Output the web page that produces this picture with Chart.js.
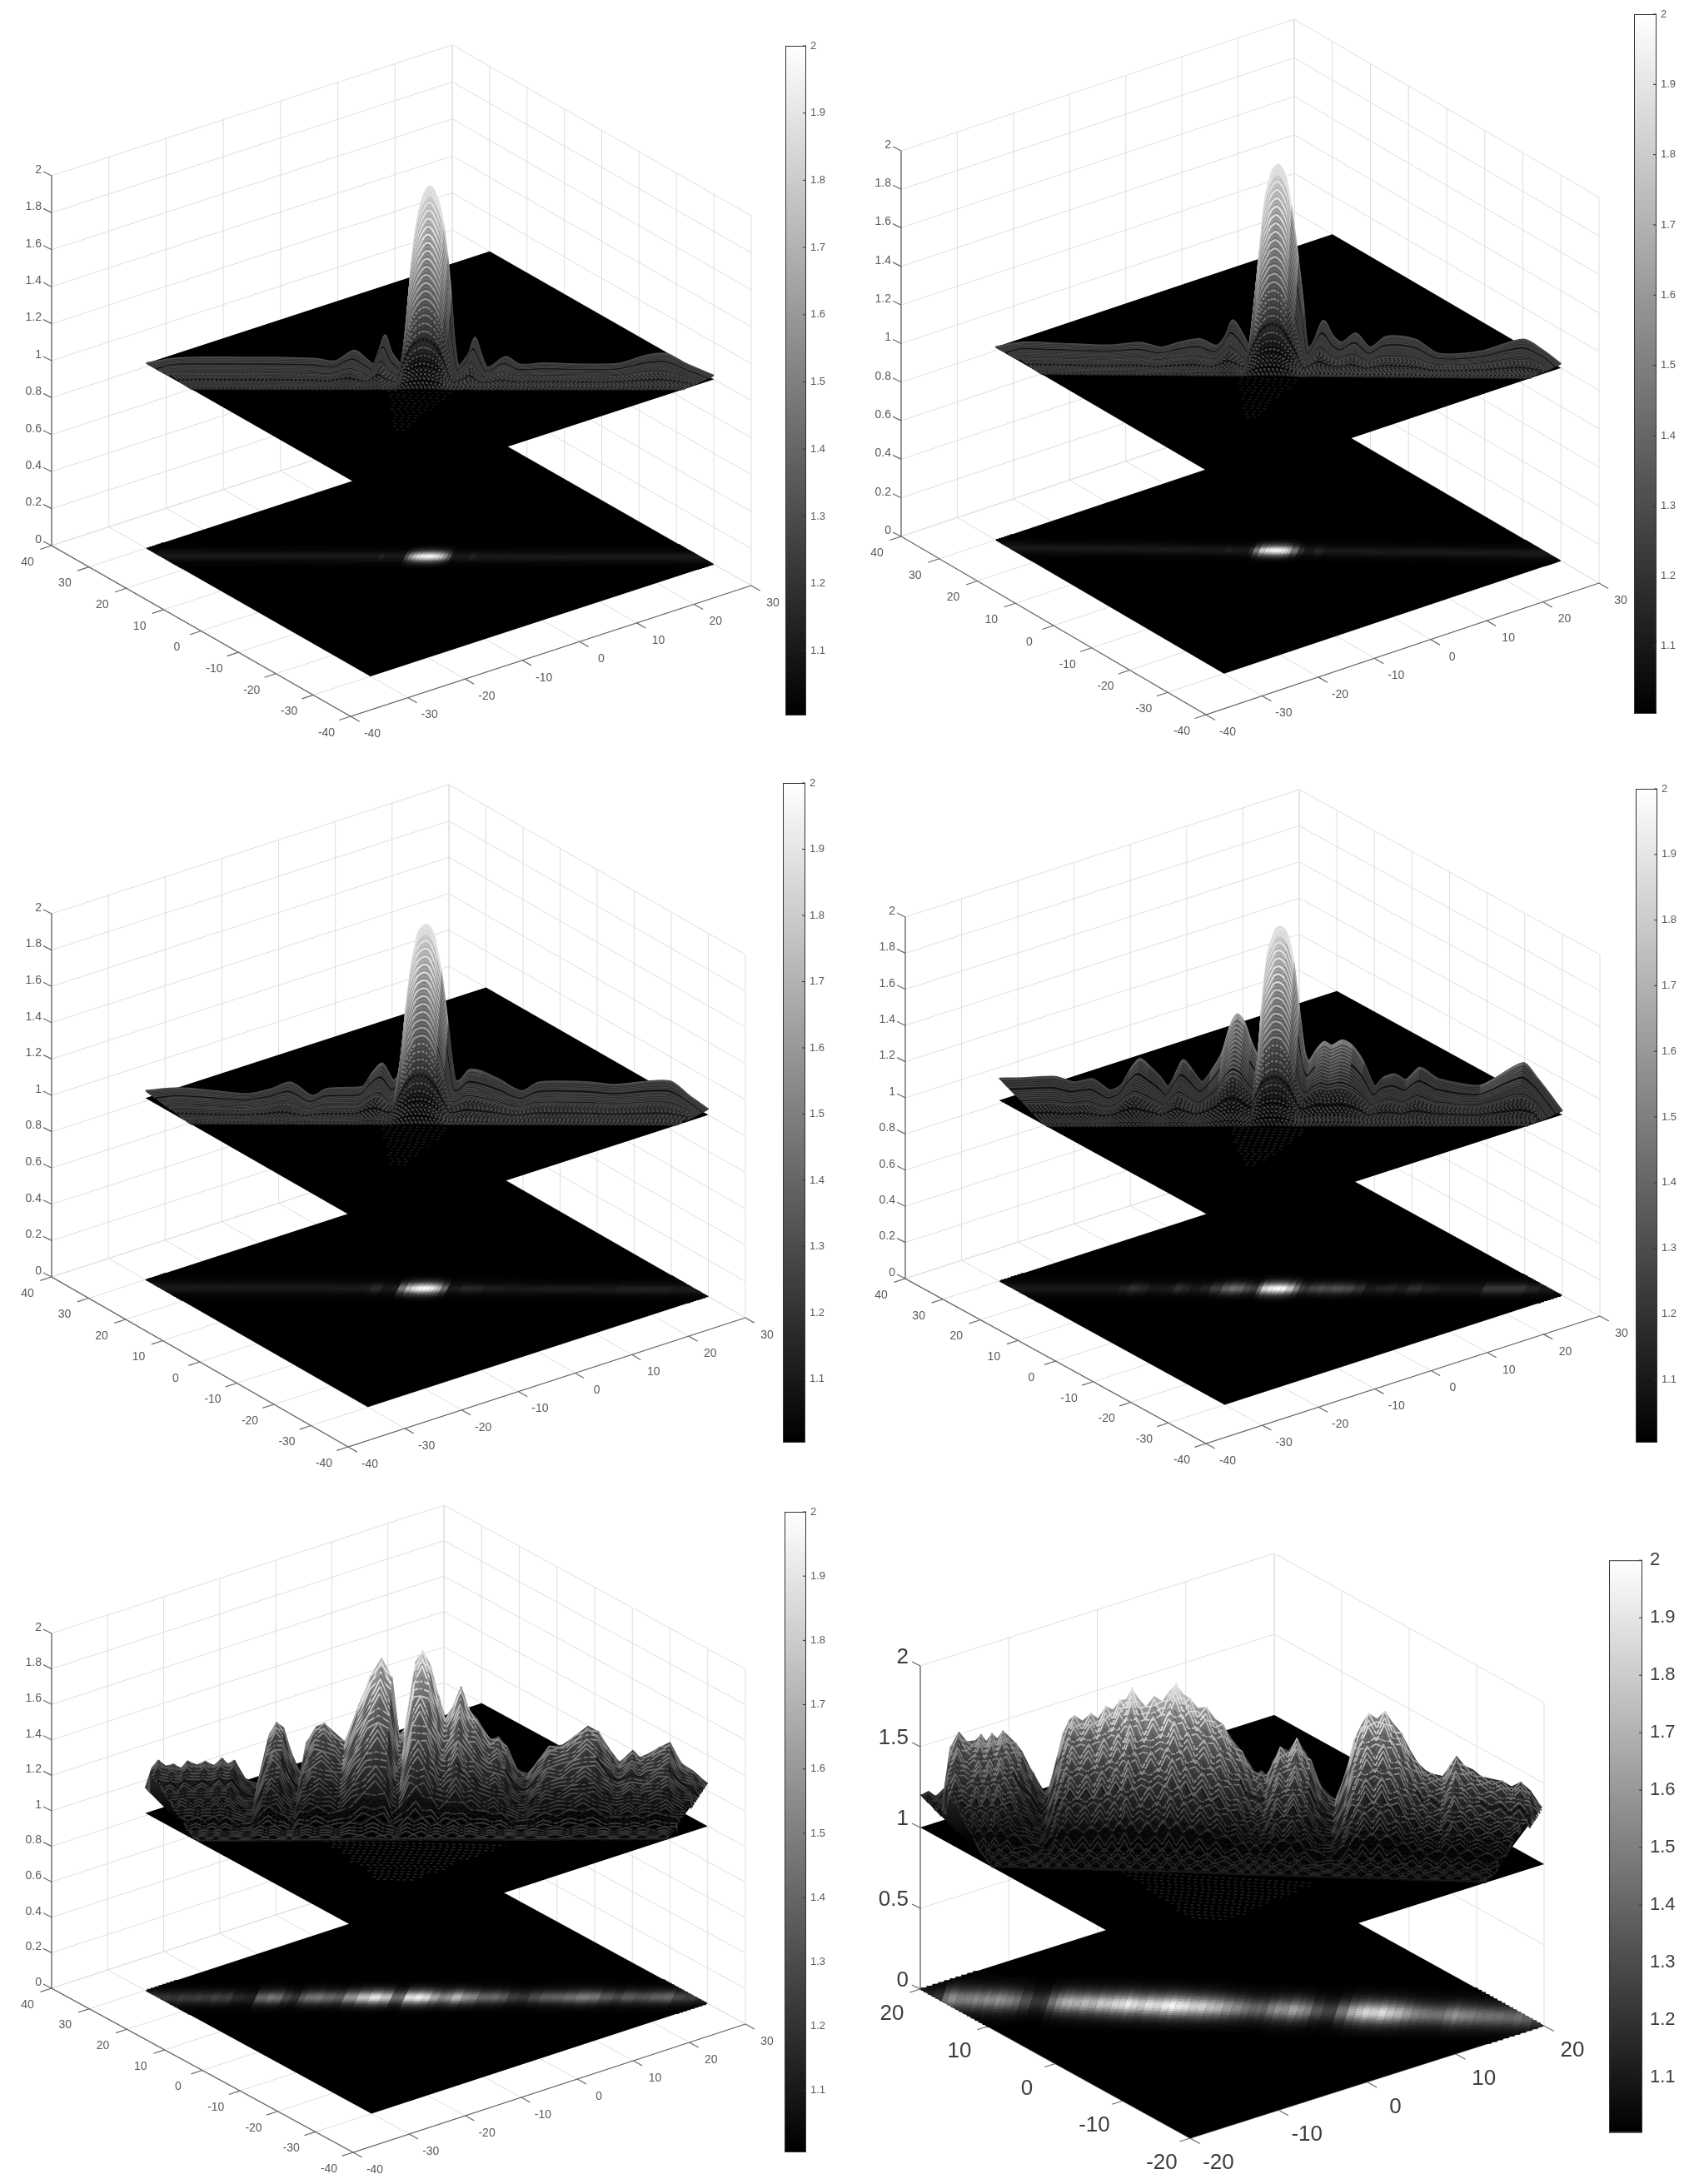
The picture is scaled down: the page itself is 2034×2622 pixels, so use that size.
<!DOCTYPE html>
<html>
<head>
<meta charset="utf-8">
<title>Surface panels</title>
<script src="https://cdn.jsdelivr.net/npm/chart.js@4"></script>
<style>
  html, body { margin: 0; background: #fff; }
  #page { position: relative; width: 2034px; height: 2622px; overflow: hidden; }
  canvas { position: absolute; filter: blur(0.7px); }
</style>
</head>
<body>
<div id="page"></div>
<script>
// tick labels
var xTicksWide = [-40, -30, -20, -10, 0, 10, 20, 30];
var yTicksWide = [-40, -30, -20, -10, 0, 10, 20, 30, 40];
var zTicksFine = [0, 0.2, 0.4, 0.6, 0.8, 1, 1.2, 1.4, 1.6, 1.8, 2];
var xTicksNarrow = [-20, -10, 0, 10, 20];
var yTicksNarrow = [-20, -10, 0, 10, 20];
var zTicksCoarse = [0, 0.5, 1, 1.5, 2];
var colorTicks = [1.1, 1.2, 1.3, 1.4, 1.5, 1.6, 1.7, 1.8, 1.9, 2];

// crest of each surface: position along the ridge and height
var panel1Pos = [-30, -27, -24, -20, -16, -12, -10, -8, -6.6, -6, -5.4, -4.75, -4.1, -3.4, -3, -2.6, -2.2, -1.8, -1.4, -1, -0.6, -0.3, 0, 0.3, 0.6, 1, 1.4, 1.8, 2.2, 2.6, 3, 3.4, 4.1, 4.75, 5.4, 6, 6.6, 8, 9.5, 12, 16, 20, 23, 25, 27, 30];
var panel1Height = [1, 1.03, 1.04, 1.045, 1.05, 1.05, 1.04, 1.1, 1.05, 1.03, 1.1, 1.19, 1.1, 1.05, 1.03, 1.16, 1.42, 1.64, 1.8, 1.9, 1.96, 1.99, 2, 1.99, 1.96, 1.9, 1.8, 1.64, 1.42, 1.16, 1.03, 1.05, 1.1, 1.19, 1.1, 1.03, 1.04, 1.09, 1.05, 1.06, 1.06, 1.07, 1.12, 1.13, 1.08, 1.02];

var panel2Pos = [-30, -27, -24.5, -23, -18, -14.5, -12.4, -10.4, -8.3, -6.5, -5.6, -4.8, -3.6, -3, -2.55, -1.95, -1.35, -0.9, -0.6, -0.3, 0, 0.35, 0.75, 1.05, 1.35, 2.1, 2.7, 3.15, 3.75, 4.8, 5.85, 6.75, 8.25, 9.75, 11.55, 14.55, 17, 21.5, 26, 28, 30];
var panel2Height = [1, 1.03, 1.03, 1.03, 1.03, 1.05, 1.03, 1.06, 1.08, 1.05, 1.1, 1.185, 1.1, 1.045, 1.25, 1.55, 1.825, 1.92, 1.97, 1.99, 2, 1.985, 1.945, 1.88, 1.79, 1.52, 1.26, 1.055, 1.085, 1.2, 1.12, 1.09, 1.14, 1.07, 1.13, 1.12, 1.05, 1.07, 1.14, 1.09, 1.02];

var panel3Pos = [-30, -26.4, -22.6, -19, -16.6, -14.5, -12.2, -10.7, -8.6, -6.8, -5.9, -4.75, -3.6, -3, -2.2, -1.6, -1.2, -0.9, -0.45, 0, 0.4, 0.75, 1.1, 1.5, 2.2, 3, 3.55, 4.6, 5.95, 7.7, 10.1, 11.9, 14.55, 17.4, 20, 25.8, 28, 30];
var panel3Height = [1.04, 1.06, 1.05, 1.04, 1.07, 1.11, 1.04, 1.08, 1.09, 1.1, 1.17, 1.23, 1.14, 1.17, 1.54, 1.79, 1.89, 1.96, 1.99, 2, 1.985, 1.94, 1.86, 1.75, 1.47, 1.15, 1.15, 1.21, 1.2, 1.16, 1.1, 1.15, 1.16, 1.16, 1.15, 1.18, 1.1, 1.03];

var panel4Pos = [-30, -27.5, -24, -22, -20, -18.2, -17, -16, -15, -14, -12.8, -12, -11.2, -10.4, -9.5, -8.4, -7.4, -6.2, -5.4, -4.65, -3.9, -3.15, -2.4, -2, -1.35, -0.8, -0.45, 0, 0.6, 1.35, 1.95, 2.55, 3, 3.9, 4.65, 5.4, 6.6, 7.65, 8.85, 10, 10.95, 12.15, 13.35, 14.85, 16.8, 21.3, 25.8, 27.3, 30];
var panel4Height = [1.12, 1.125, 1.137, 1.11, 1.13, 1.07, 1.1, 1.19, 1.25, 1.21, 1.15, 1.1, 1.17, 1.25, 1.2, 1.13, 1.19, 1.3, 1.44, 1.51, 1.47, 1.36, 1.29, 1.55, 1.86, 1.95, 1.99, 2, 1.97, 1.81, 1.55, 1.31, 1.26, 1.33, 1.37, 1.35, 1.38, 1.35, 1.26, 1.13, 1.18, 1.2, 1.17, 1.24, 1.18, 1.15, 1.28, 1.2, 1.02];

var panel5Pos = [-30, -29.3, -28.6, -27.8, -27, -26.2, -25.5, -24.5, -23.6, -22.7, -21.8, -21.2, -20.5, -19.3, -18, -16.8, -16, -15.2, -14.3, -13.4, -12.8, -11.8, -10.9, -9.6, -8.7, -7.3, -6, -4.8, -3.7, -2.9, -2.3, -1.2, -0.4, 0.4, 1.3, 2, 2.7, 3.7, 4.6, 5.4, 6.8, 7.7, 8.6, 9.7, 10.8, 12, 13.1, 14.5, 15.8, 17.2, 18.3, 19.7, 20.6, 22, 22.8, 23.6, 24.9, 26, 27.2, 28.5, 30];
var panel5Height = [1.14, 1.26, 1.3, 1.27, 1.28, 1.26, 1.3, 1.28, 1.3, 1.28, 1.32, 1.29, 1.31, 1.21, 1.18, 1.46, 1.53, 1.5, 1.34, 1.25, 1.42, 1.51, 1.53, 1.47, 1.43, 1.63, 1.8, 1.91, 1.8, 1.48, 1.51, 1.89, 1.95, 1.88, 1.7, 1.58, 1.63, 1.76, 1.62, 1.58, 1.46, 1.48, 1.42, 1.3, 1.27, 1.36, 1.43, 1.44, 1.49, 1.55, 1.52, 1.41, 1.35, 1.42, 1.38, 1.4, 1.44, 1.47, 1.35, 1.31, 1.24];

var panel6Pos = [-20, -19.47, -19, -18.41, -18.06, -17.53, -17, -16.47, -16.1, -15.77, -15.4, -15.06, -14.7, -14.35, -13.9, -13.47, -12.77, -12.06, -11.71, -11.2, -10.83, -10.45, -10.12, -9.6, -9.06, -8.6, -8.1, -7.65, -7.2, -6.8, -6.42, -6, -5.54, -5, -4.48, -4, -3.6, -3.1, -2.72, -2.2, -1.66, -1.1, -0.6, 0, 0.63, 1.1, 1.52, 1.9, 2.22, 2.7, 3.1, 3.6, 4.16, 4.6, 5.04, 5.75, 6.63, 7.34, 7.87, 8.3, 8.75, 9.3, 9.8, 10.3, 10.86, 11.4, 11.92, 12.4, 12.8, 13.5, 14, 14.39, 14.9, 15.45, 16, 16.68, 17.3, 17.92, 18.5, 19.15, 19.86];
var panel6Height = [1.2, 1.23, 1.2, 1.26, 1.51, 1.61, 1.55, 1.56, 1.6, 1.56, 1.61, 1.58, 1.63, 1.6, 1.56, 1.51, 1.38, 1.27, 1.3, 1.5, 1.64, 1.72, 1.75, 1.72, 1.77, 1.74, 1.82, 1.8, 1.86, 1.87, 1.94, 1.88, 1.83, 1.9, 1.87, 1.94, 1.98, 1.92, 1.9, 1.84, 1.85, 1.78, 1.75, 1.66, 1.59, 1.52, 1.46, 1.48, 1.45, 1.56, 1.63, 1.61, 1.69, 1.62, 1.56, 1.4, 1.32, 1.52, 1.71, 1.8, 1.87, 1.84, 1.89, 1.82, 1.76, 1.66, 1.58, 1.54, 1.52, 1.51, 1.58, 1.64, 1.58, 1.56, 1.52, 1.51, 1.5, 1.47, 1.5, 1.45, 1.35];

// share of the crest height kept by each row going from the crest to the front edge
var bandProfile = [1, 0.98, 0.96, 0.94, 0.92, 0.9, 0.88, 0.86, 0.84, 0.82, 0.8, 0.78, 0.76, 0.74, 0.72, 0.7, 0.68, 0.66, 0.64, 0.62, 0.6, 0.58, 0.56, 0.54, 0.52, 0.5, 0.48, 0.46, 0.44, 0.42, 0.4, 0.38, 0.36, 0.34, 0.32, 0.3, 0.28, 0.26, 0.24, 0.22, 0.2, 0.18, 0.16, 0.14, 0.12, 0.1, 0.09, 0.08, 0.07, 0.06, 0.05, 0.04, 0.03, 0.02, 0.01, 0.005];
// brightness of the floor image across the band, back to front
var floorProfile = [0.02, 0.04, 0.07, 0.1, 0.14, 0.2, 0.27, 0.36, 0.47, 0.6, 0.74, 0.88, 0.97, 1, 0.97, 0.88, 0.74, 0.6, 0.47, 0.36, 0.27, 0.2, 0.14, 0.1, 0.07, 0.04, 0.02];

// view of each panel in page pixels
var panels = [
  { pos: panel1Pos, height: panel1Height, box: [0, 0, 940, 900], left: [62, 655], front: [421, 860], right: [902, 703], zUnit: 222, half: 30, xLim: [-40, 30], yLim: [-40, 40], xTicks: xTicksWide, yTicks: yTicksWide, zTicks: zTicksFine, font: 14, band: 0.15, floorBand: 0.1, cone: 0.12, coneColor: '#161616', tension: 0.3, gamma: 0.75, lift: 0.26, body: 0.62, zig: 0, bar: [943, 55, 25, 803], barFont: 13 },
  { pos: panel2Pos, height: panel2Height, box: [1020, 0, 940, 900], left: [1082, 644], front: [1448, 858], right: [1920, 700], zUnit: 231.5, half: 30, xLim: [-40, 30], yLim: [-40, 40], xTicks: xTicksWide, yTicks: yTicksWide, zTicks: zTicksFine, font: 14, band: 0.15, floorBand: 0.1, cone: 0.12, coneColor: '#161616', tension: 0.3, gamma: 0.75, lift: 0.26, body: 0.62, zig: 0, bar: [1962, 17, 27, 839], barFont: 13 },
  { pos: panel3Pos, height: panel3Height, box: [0, 900, 940, 880], left: [62, 1533], front: [418, 1737], right: [895, 1582], zUnit: 218, half: 30, xLim: [-40, 30], yLim: [-40, 40], xTicks: xTicksWide, yTicks: yTicksWide, zTicks: zTicksFine, font: 14, band: 0.15, floorBand: 0.11, cone: 0.14, coneColor: '#181818', tension: 0.3, gamma: 0.75, lift: 0.26, body: 0.62, zig: 0, bar: [940, 940, 27, 791], barFont: 13 },
  { pos: panel4Pos, height: panel4Height, box: [1020, 900, 940, 880], left: [1087, 1535], front: [1448, 1733], right: [1921, 1580], zUnit: 217, half: 30, xLim: [-40, 30], yLim: [-40, 40], xTicks: xTicksWide, yTicks: yTicksWide, zTicks: zTicksFine, font: 14, band: 0.16, floorBand: 0.12, cone: 0.16, coneColor: '#1c1c1c', tension: 0.25, gamma: 0.78, lift: 0.24, body: 0.6, zig: 0, bar: [1964, 947, 26, 784], barFont: 13 },
  { pos: panel5Pos, height: panel5Height, box: [0, 1780, 940, 842], left: [62, 2387], front: [424, 2584], right: [895, 2430], zUnit: 213, half: 30, xLim: [-40, 30], yLim: [-40, 40], xTicks: xTicksWide, yTicks: yTicksWide, zTicks: zTicksFine, font: 14, band: 0.18, floorBand: 0.14, cone: 0.36, coneColor: '#242424', tension: 0, gamma: 0.9, lift: 0.2, body: 0.5, zig: 2, bar: [942, 1815, 26, 768], barFont: 13 },
  { pos: panel6Pos, height: panel6Height, box: [1020, 1780, 900, 842], left: [1105, 2388], front: [1429, 2567], right: [1854, 2432], zUnit: 194, half: 20, xLim: [-20, 20], yLim: [-20, 20], xTicks: xTicksNarrow, yTicks: yTicksNarrow, zTicks: zTicksCoarse, font: 26, band: 0.22, floorBand: 0.2, cone: 0.34, coneColor: '#202020', tension: 0, gamma: 1.1, lift: 0.14, body: 0.5, zig: 3, bar: [1932, 1867, 40, 699], barFont: 22 }
];

var page = document.getElementById('page');

function addCanvas(left, top, width, height) {
  var canvas = document.createElement('canvas');
  canvas.width = width;
  canvas.height = height;
  canvas.style.left = left + 'px';
  canvas.style.top = top + 'px';
  canvas.style.width = width + 'px';
  canvas.style.height = height + 'px';
  page.appendChild(canvas);
  return canvas;
}

function grey(v) {
  var g = Math.round(255 * Math.max(0, Math.min(1, v)));
  return 'rgb(' + g + ',' + g + ',' + g + ')';
}

// axis coordinates to page pixels, the chart's scales run in page pixels
function projector(p) {
  var ex = [(p.right[0] - p.front[0]) / (p.xLim[1] - p.xLim[0]), (p.right[1] - p.front[1]) / (p.xLim[1] - p.xLim[0])];
  var ey = [(p.left[0] - p.front[0]) / (p.yLim[1] - p.yLim[0]), (p.left[1] - p.front[1]) / (p.yLim[1] - p.yLim[0])];
  return function (x, y, z) {
    var dx = x - p.xLim[0], dy = y - p.yLim[0];
    return {
      x: p.front[0] + dx * ex[0] + dy * ey[0],
      y: p.front[1] + dx * ex[1] + dy * ey[1] - z * p.zUnit
    };
  };
}

function line(points, color, width) {
  return { data: points, showLine: true, borderColor: color, borderWidth: width, pointRadius: 0, fill: false };
}

function buildFrame(p, proj, sets) {
  var gridColor = '#dedede';
  var x0 = p.xLim[0], x1 = p.xLim[1], y0 = p.yLim[0], y1 = p.yLim[1];
  var zTop = p.zTicks[p.zTicks.length - 1];
  p.zTicks.forEach(function (z) {
    sets.push(line([proj(x0, y1, z), proj(x1, y1, z), proj(x1, y0, z)], gridColor, 1));
  });
  p.xTicks.forEach(function (x) {
    sets.push(line([proj(x, y0, 0), proj(x, y1, 0), proj(x, y1, zTop)], gridColor, 1));
  });
  p.yTicks.forEach(function (y) {
    sets.push(line([proj(x0, y, 0), proj(x1, y, 0), proj(x1, y, zTop)], gridColor, 1));
  });
  var axisColor = '#666666';
  sets.push(line([proj(x0, y1, zTop), proj(x0, y1, 0), proj(x0, y0, 0), proj(x1, y0, 0)], axisColor, 1.3));
  var unit = p.half === 30 ? 1 : 0.6;
  p.zTicks.forEach(function (z) {
    var a = proj(x0, y1, z);
    sets.push(line([a, { x: a.x - 10, y: a.y - 5 }], axisColor, 1.2));
  });
  p.yTicks.forEach(function (y) {
    var a = proj(x0, y, 0), b = proj(x0 - 2 * unit, y, 0);
    sets.push(line([a, b], axisColor, 1.2));
  });
  p.xTicks.forEach(function (x) {
    var a = proj(x, y0, 0), b = proj(x, y0 - 2.4 * unit, 0);
    sets.push(line([a, b], axisColor, 1.2));
  });
}

function sheet(p, proj, z) {
  var h = p.half;
  var corners = [proj(-h, h, z), proj(h, h, z), proj(h, -h, z), proj(-h, -h, z), proj(-h, h, z)];
  return { data: corners, showLine: true, borderWidth: 0, borderColor: 'rgba(0,0,0,0)', backgroundColor: '#000', fill: 'shape', pointRadius: 0 };
}

function toAxis(p, s, t) {
  return [p.half * (s + t), p.half * (t - s)];
}

// where a row, with depth tOf(s), leaves the square footprint on one side
function rowLimit(tOf, side) {
  var lo = 0, hi = 1;
  for (var k = 0; k < 24; k++) {
    var mid = (lo + hi) / 2;
    if (mid + Math.abs(tOf(side * mid)) > 1) hi = mid; else lo = mid;
  }
  return side * lo;
}

// stations of one row: those inside the footprint, plus the nearest outer one moved onto the edge
function rowStations(p, tOf) {
  var limLeft = rowLimit(tOf, -1), limRight = rowLimit(tOf, 1);
  var out = [];
  var pending = -1, closed = false;
  p.pos.forEach(function (pos, i) {
    var s = pos / p.half;
    if (closed) return;
    if (s < limLeft) { pending = i; return; }
    if (pending >= 0) { out.push({ s: limLeft, i: pending }); pending = -1; }
    if (s > limRight) { out.push({ s: limRight, i: i }); closed = true; return; }
    out.push({ s: s, i: i });
  });
  return out;
}

// floor image: same crest, laid flat at z = 0 and shaded across the band
function buildFloor(p, proj, sets) {
  sets.push(sheet(p, proj, 0));
  floorProfile.forEach(function (weight, j) {
    var offset = (j / (floorProfile.length - 1) - 0.5) * 2 * p.floorBand;
    var tOf = function (s) { return offset + 0.06 * s; };
    var row = rowStations(p, tOf).map(function (st) {
      var a = toAxis(p, st.s, tOf(st.s));
      var pt = proj(a[0], a[1], 0);
      pt.shade = grey(Math.max(weight * 0.1, Math.pow((p.height[st.i] - 1) * weight, 1.2)));
      return pt;
    });
    if (row.length < 2) return;
    var set = line(row, '#000', p.floorBand * 17);
    set.tension = 0.2;
    set.segment = { borderColor: function (c) { return row[c.p1DataIndex].shade; } };
    sets.push(set);
  });
}

// faint dotted wedge of rows on the upper sheet, just in front of the ridge
function buildCone(p, proj, sets) {
  for (var j = 1; j <= 14; j++) {
    var t = -p.band - j * 0.024;
    var reach = p.cone * (1 - j / 18);
    var row = [];
    p.pos.forEach(function (pos) {
      var s = pos / p.half;
      if (Math.abs(s) > reach) return;
      var a = toAxis(p, s, t);
      row.push(proj(a[0], a[1], 1));
    });
    if (row.length < 2) continue;
    var set = line(row, p.coneColor, 1.5);
    set.borderDash = [4, 4];
    sets.push(set);
  }
}

function buildSurface(p, proj, sets, ctx) {
  sets.push(sheet(p, proj, 1));
  buildCone(p, proj, sets);

  var rows = bandProfile.map(function (weight, j) {
    var frac = j / (bandProfile.length - 1);
    var tOf = function (s) { return frac * (-p.band + 0.065 * s); };
    return rowStations(p, tOf).map(function (st) {
      var a = toAxis(p, st.s, tOf(st.s));
      var h = p.height[st.i];
      var z = 1 + (h - 1) * weight;
      var pt = proj(a[0], a[1], z);
      var lift = p.lift * Math.min(1, (h - 1) / 0.02);
      pt.light = Math.max(lift, Math.pow(z - 1, p.gamma));
      pt.i = st.i;
      return pt;
    });
  });

  // body below the crest, shaded by height; the mesh rows go over it
  var yLow = proj(0, 0, 1).y - p.box[1], yHigh = proj(0, 0, 2).y - p.box[1];
  var bodyFill = ctx.createLinearGradient(0, yLow, 0, yHigh);
  for (var k = 0; k <= 10; k++) {
    var u = k / 10;
    bodyFill.addColorStop(u, grey(Math.pow(u, p.gamma) * (p.body + (0.9 - p.body) * Math.pow(u, 4))));
  }
  var outline = rows[0].concat(rows[rows.length - 1].slice().reverse());
  outline.push(rows[0][0]);
  sets.push({ data: outline.map(function (q) { return { x: q.x, y: q.y }; }), showLine: true, borderWidth: 0, borderColor: 'rgba(0,0,0,0)', backgroundColor: bodyFill, fill: 'shape', pointRadius: 0 });

  // mesh wires: on the rough panels each one steps between a row and a row further front
  rows.forEach(function (row, j) {
    var next = rows[Math.min(j + p.zig, rows.length - 1)];
    var byStation = {};
    next.forEach(function (q) { byStation[q.i] = q; });
    var wire = row.map(function (q, k) {
      if (p.zig > 0 && (k + j) % 2 === 1 && byStation[q.i]) return byStation[q.i];
      return q;
    });
    var strong = j % 2 === 0;
    var stripe = j % 13 === 12;
    var set = line(wire, '#000', p.zig > 0 ? (strong ? 1.8 : 1.6) : (strong ? 2.4 : 2.2));
    set.tension = p.tension;
    if (p.zig === 0 && j > 28) set.borderDash = [3, 2];
    set.segment = {
      borderColor: function (c) {
        var l = wire[c.p1DataIndex].light;
        var factor = strong || j < 2 ? 1.1 : (p.zig > 0 ? 0.35 : 0.5) + 0.35 * l;
        if (stripe && l < 0.35) factor = 0.2;
        return grey(Math.min(0.88, l * factor));
      }
    };
    sets.push(set);
  });
}

function tickText(p, proj) {
  var out = [];
  var big = p.half === 20;
  p.zTicks.forEach(function (z) {
    var a = proj(p.xLim[0], p.yLim[1], z);
    out.push({ x: a.x - (big ? 14 : 12), y: a.y - (big ? 10 : 7), text: String(z), align: 'right' });
  });
  p.yTicks.forEach(function (y) {
    var a = proj(p.xLim[0], y, 0);
    out.push({ x: a.x - (big ? 34 : 29), y: a.y + (big ? 30 : 20), text: String(y), align: 'center' });
  });
  p.xTicks.forEach(function (x) {
    var a = proj(x, p.yLim[0], 0);
    out.push({ x: a.x + (big ? 34 : 26), y: a.y + (big ? 30 : 21), text: String(x), align: 'center' });
  });
  return out;
}

var axisText = {
  id: 'axisText',
  afterDraw: function (chart, args, opts) {
    var ctx = chart.ctx;
    ctx.save();
    ctx.fillStyle = opts.color;
    ctx.font = opts.size + 'px "Liberation Sans"';
    ctx.textBaseline = 'middle';
    opts.items.forEach(function (item) {
      ctx.textAlign = item.align;
      ctx.fillText(item.text, chart.scales.x.getPixelForValue(item.x), chart.scales.y.getPixelForValue(item.y));
    });
    ctx.restore();
  }
};

function drawPanel(p) {
  var proj = projector(p);
  var canvas = addCanvas(p.box[0], p.box[1], p.box[2], p.box[3]);
  var ctx = canvas.getContext('2d');
  var sets = [];
  buildFrame(p, proj, sets);
  buildFloor(p, proj, sets);
  buildSurface(p, proj, sets, ctx);
  sets.reverse(); // Chart.js paints the first dataset last

  new Chart(ctx, {
    type: 'scatter',
    data: { datasets: sets },
    plugins: [axisText],
    options: {
      responsive: false,
      animation: false,
      events: [],
      layout: { padding: 0 },
      scales: {
        x: { type: 'linear', display: false, min: p.box[0], max: p.box[0] + p.box[2] },
        y: { type: 'linear', display: false, reverse: true, min: p.box[1], max: p.box[1] + p.box[3] }
      },
      plugins: {
        legend: { display: false },
        tooltip: { enabled: false },
        axisText: { items: tickText(p, proj), size: p.font, color: p.half === 20 ? '#3c3c3c' : '#5a5a5a' }
      }
    }
  });
}

var barFrame = {
  id: 'barFrame',
  afterDraw: function (chart) {
    var ctx = chart.ctx, area = chart.chartArea, y = chart.scales.y;
    ctx.save();
    ctx.strokeStyle = '#333';
    ctx.lineWidth = 1;
    ctx.strokeRect(area.left + 0.5, area.top + 0.5, area.right - area.left - 1, area.bottom - area.top);
    colorTicks.forEach(function (v) {
      var py = y.getPixelForValue(v);
      ctx.beginPath();
      ctx.moveTo(area.right, py);
      ctx.lineTo(area.right - 4, py);
      ctx.stroke();
    });
    ctx.restore();
  }
};

function drawColorbar(p) {
  var b = p.bar;
  var bottomValue = 1.005;
  var levels = [];
  for (var i = 0; i < 128; i++) {
    var lo = bottomValue + (2 - bottomValue) * i / 128;
    levels.push({
      label: 'level',
      data: [[lo, 2]],
      backgroundColor: grey((i + 0.5) / 128),
      borderWidth: 0,
      barPercentage: 1,
      categoryPercentage: 1,
      order: 128 - i
    });
  }
  var labelRoom = Math.round(p.barFont * 3);
  var canvas = addCanvas(b[0], b[1] - 16, b[2] + labelRoom, b[3] + 32);
  new Chart(canvas.getContext('2d'), {
    type: 'bar',
    data: { labels: ['colormap'], datasets: levels },
    plugins: [barFrame],
    options: {
      responsive: false,
      animation: false,
      events: [],
      layout: { padding: { top: 16, bottom: 16, left: 0, right: 0 } },
      scales: {
        x: { display: false, stacked: true },
        y: {
          position: 'right',
          min: bottomValue,
          max: 2,
          grid: { display: false, drawTicks: false },
          border: { display: false },
          afterFit: function (scale) { scale.width = labelRoom; },
          afterBuildTicks: function (scale) { scale.ticks = colorTicks.map(function (v) { return { value: v }; }); },
          ticks: {
            padding: Math.round(p.barFont * 0.4),
            color: p.half === 20 ? '#3c3c3c' : '#5a5a5a',
            font: { family: '"Liberation Sans"', size: p.barFont },
            callback: function (v) { return String(v); }
          }
        }
      },
      plugins: { legend: { display: false }, tooltip: { enabled: false } }
    }
  });
}

panels.forEach(function (p) {
  drawPanel(p);
  drawColorbar(p);
});
</script>
</body>
</html>
